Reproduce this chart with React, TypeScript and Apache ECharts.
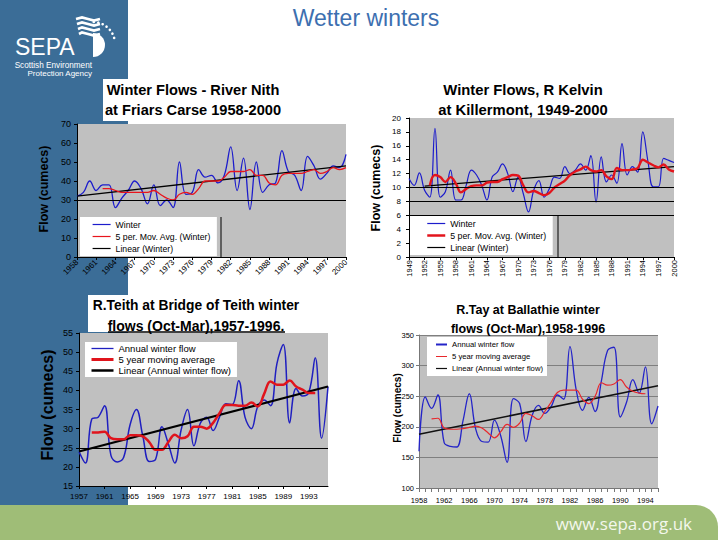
import React, { useEffect, useRef } from "react";
import * as echarts from "echarts";

const SANS = "'Liberation Sans', Arial, Helvetica, sans-serif";
const PLOT_GRAY = "#c0c0c0";
const SEPA_BLUE = "#3b6d97";
const SEPA_GREEN = "#9fbd77";

type Num = number | null;

// ---------------- River Nith (1958-2000) ----------------
const nithYears = ["1958","1959","1960","1961","1962","1963","1964","1965","1966","1967","1968","1969","1970","1971","1972","1973","1974","1975","1976","1977","1978","1979","1980","1981","1982","1983","1984","1985","1986","1987","1988","1989","1990","1991","1992","1993","1994","1995","1996","1997","1998","1999","2000"];
const nithWinter: Num[] = [32,34,40,35,38,38,26,31,35,40,36,28,38,27,30,26,50,33,34,46,42,43,39,43,58,35,52,25,50,34,38,39,56,45,43,35,53,48,41,44,48,47,54];
const nithMovAvg: Num[] = [null,null,null,null,36,36,35,34,34,34,34,34,35,33,31,30,33,34,33,36,40,40,40,42,45,45,45,46,43,43,39,38,43,44,44,44,45,46,44,45,47,46,47];
const nithLinearEnds = [32, 48];
const nithRefLines = [30];
const nithNames = ["Winter", "5 per. Mov. Avg. (Winter)", "Linear (Winter)"];

// ---------------- R Kelvin (1949-2000) ----------------
const kelvinYears = ["1949","1950","1951","1952","1953","1954","1955","1956","1957","1958","1959","1960","1961","1962","1963","1964","1965","1966","1967","1968","1969","1970","1971","1972","1973","1974","1975","1976","1977","1978","1979","1980","1981","1982","1983","1984","1985","1986","1987","1988","1989","1990","1991","1992","1993","1994","1995","1996","1997","1998","1999","2000"];
const kelvinWinter: Num[] = [11.3,10.3,12.1,9.6,8.6,18.5,8.6,9.4,12.5,8.2,8.2,10.3,12.5,11.8,10.3,8.2,11.5,12.2,13.4,12,9.4,11.5,9.1,6.5,9.6,11,8.6,9.8,11.5,11.3,13,12,12.5,13.4,12.5,14.6,7.9,14.4,10.8,11.8,10.6,16.3,11.8,13,12.2,18,13.7,10.1,10.1,14.2,13.9,13.6];
const kelvinMovAvg: Num[] = [null,null,null,null,10.3,11.8,11.5,10.8,11.5,10.6,9.3,9.8,10.2,10.3,10.3,10.7,10.8,10.8,11.2,11.5,11.8,11.7,10.3,9.3,9.5,9.2,8.9,9.2,10,10.5,11,11.8,12.3,12.6,13,12.5,12.3,12.5,11.6,11.2,12.8,12.5,12.5,12.6,12.8,14,13.6,13.2,12.9,13.3,12.6,12.3];
const kelvinLinearEnds = [10.2, 13.0];
const kelvinRefLines = [6, 8, 10];
const kelvinNames = ["Winter", "5 per. Mov. Avg. (Winter)", "Linear (Winter)"];

// ---------------- R.Teith (1957-1996) ----------------
const teithYears = ["1957","1958","1959","1960","1961","1962","1963","1964","1965","1966","1967","1968","1969","1970","1971","1972","1973","1974","1975","1976","1977","1978","1979","1980","1981","1982","1983","1984","1985","1986","1987","1988","1989","1990","1991","1992","1993","1994","1995","1996"];
const teithWinter: Num[] = [24,21,32.5,33,36,23,21.3,22.5,31,35,28,21.4,22,30.5,26,21,29.7,35,25.5,31.4,33,29.5,33,36.5,36.3,42.5,33,30,35.8,37.5,36,47,52,31.5,40.5,38.5,39.5,48.5,27.5,41];
const teithMovAvg: Num[] = [null,null,29,29,29.2,27.5,27.2,27.2,28.3,28.3,28,26.5,24.5,24.5,26.5,28.4,27.5,28,30.5,30.5,30,31.5,34,36.2,36.2,36,36,36.8,35.8,39.1,42.3,41.5,41.5,42.6,41,40.2,39.3,39.3,null,null];
const teithLinearEnds = [24, 41];
const teithRefLines = [25];
const teithNames = ["Annual winter flow", "5 year moving average", "Linear (Annual winter flow)"];

// ---------------- R.Tay (1958-1996) ----------------
const tayYears = ["1958","1959","1960","1961","1962","1963","1964","1965","1966","1967","1968","1969","1970","1971","1972","1973","1974","1975","1976","1977","1978","1979","1980","1981","1982","1983","1984","1985","1986","1987","1988","1989","1990","1991","1992","1993","1994","1995","1996"];
const tayWinter: Num[] = [160,249,230,252,174,168,167,210,254,197,176,175,211,185,142,246,238,176,219,235,222,233,252,245,331,260,227,248,225,275,325,330,216,240,277,255,298,205,234];
const tayMovAvg: Num[] = [null,null,213,214,198,196,196,197,199,201,198,190,182,192,204,199,206,222,218,212,225,240,256,260,260,260,245,238,250,272,268,270,277,265,258,255,254,null,null];
const tayLinearEnds = [188, 267];
const tayNames = ["Annual winter flow", "5 year moving average", "Linear (Annual winter flow)"];

function trendLine(years: string[], ends: number[], from?: string): Num[] {
  const first = from ?? years[0];
  const last = years[years.length - 1];
  return years.map((y) => (y === first ? ends[0] : y === last ? ends[1] : null));
}

function curve(name: string, data: Num[], color: string, width: number, extra: any = {}) {
  return {
    type: "line",
    name,
    data,
    symbol: "none",
    smooth: 0.4,
    connectNulls: false,
    silent: true,
    lineStyle: { color, width },
    itemStyle: { color },
    emphasis: { disabled: true },
    ...extra,
  };
}

function straight(name: string, data: Num[], color: string, width: number) {
  return curve(name, data, color, width, { smooth: false, connectNulls: true });
}

function refLines(values: number[], color = "#000") {
  return {
    silent: true,
    symbol: ["none", "none"],
    label: { show: false },
    lineStyle: { color, width: 1, type: "solid" },
    emphasis: { disabled: true },
    data: values.map((v) => ({ yAxis: v })),
  };
}

function txt(text: string, x: number, y: number, size: number, o: any = {}) {
  const align = o.align || "center";
  return {
    type: "text",
    x,
    y,
    rotation: o.rotation || 0,
    z: 100,
    silent: true,
    style: {
      text,
      fontSize: size,
      fontFamily: o.family || SANS,
      fontWeight: o.weight || "normal",
      fill: o.color || "#000",
      align,
      verticalAlign: "middle",
      textAlign: align,
      textVerticalAlign: "middle",
    },
  };
}

function hline(x1: number, x2: number, y: number, w = 1, color = "#000") {
  return { type: "line", z: 100, silent: true, shape: { x1, y1: y, x2, y2: y }, style: { stroke: color, lineWidth: w } };
}
function vline(x: number, y1: number, y2: number, w = 1, color = "#000") {
  return { type: "line", z: 100, silent: true, shape: { x1: x, y1, x2: x, y2 }, style: { stroke: color, lineWidth: w } };
}

function catAxis(years: string[], o: any) {
  return {
    type: "category",
    data: years,
    boundaryGap: false,
    axisLine: { show: true, lineStyle: { color: o.lineColor || "#000", width: 1 } },
    axisTick: { show: true, interval: o.tickInterval, length: o.tickLen ?? 3, lineStyle: { color: o.lineColor || "#000" } },
    axisLabel: { interval: o.labelInterval, rotate: o.rotate || 0, fontSize: o.fontSize, margin: o.margin, color: "#000", fontFamily: SANS },
    splitLine: { show: false },
  };
}

function valAxis(min: number, max: number, interval: number, o: any) {
  return {
    type: "value",
    min,
    max,
    interval,
    axisLine: { show: true, lineStyle: { color: o.lineColor || "#000", width: 1 } },
    axisTick: { show: true, length: 3, lineStyle: { color: o.lineColor || "#000" } },
    axisLabel: { fontSize: o.fontSize, margin: o.margin, color: o.labelColor || "#000", fontFamily: SANS },
    splitLine: { show: !!o.split, lineStyle: { color: o.splitColor || "#808080", width: 1 } },
  };
}

// legend entries: names with their icon line widths
function legendBox(names: string[], widths: number[], o: any) {
  return {
    orient: "vertical",
    left: o.left,
    top: o.top,
    itemWidth: o.itemWidth,
    itemHeight: 1,
    itemGap: o.itemGap ?? 1,
    padding: o.padding,
    backgroundColor: "#ffffff",
    selectedMode: false,
    textStyle: { fontSize: o.fontSize, lineHeight: o.lineHeight, color: "#000", fontFamily: SANS },
    data: names.map((n, i) => ({ name: n, lineStyle: { width: widths[i] } })),
  };
}

function gridBox(left: number, top: number, width: number, height: number) {
  return { left, top, width, height, show: true, backgroundColor: PLOT_GRAY, borderWidth: 0, containLabel: false };
}

// ---------------- options ----------------
function bgOption() {
  const dots: any[] = [];
  const angles = [-88, -76, -64, -52, -40, -28, -16];
  angles.forEach((a) => {
    const r = (a * Math.PI) / 180;
    dots.push({ type: "circle", silent: true, shape: { cx: 93 + 22 * Math.cos(r), cy: 44 + 22 * Math.sin(r), r: 1.3 }, style: { fill: "#ffffff" } });
  });
  const waves: any[] = [19, 24, 29, 34].map((b, i) => ({
    type: "polyline",
    silent: true,
    shape: { points: [[76 + i * 1, b], [82, b - 1.6], [88, b], [94, b + 1.6], [100, b]] },
    style: { stroke: "#ffffff", lineWidth: 2.6, fill: null },
  }));
  return {
    animation: false,
    graphic: {
      elements: [
        { type: "rect", silent: true, z: 0, shape: { x: 0, y: 0, width: 128, height: 505 }, style: { fill: SEPA_BLUE } },
        { type: "rect", silent: true, z: 0, shape: { x: 0, y: 505, width: 718, height: 35, r: [0, 22, 0, 0] }, style: { fill: SEPA_GREEN } },
        { type: "rect", silent: true, z: 1, shape: { x: 103, y: 79, width: 25, height: 42 }, style: { fill: "#ffffff" } },
        { type: "rect", silent: true, z: 1, shape: { x: 88, y: 295, width: 40, height: 37 }, style: { fill: "#ffffff" } },
        ...waves,
        ...dots,
        { type: "sector", silent: true, shape: { cx: 93, cy: 45, r0: 0, r: 12, startAngle: -Math.PI / 2, endAngle: Math.PI / 2 }, style: { fill: "#ffffff" } },
        txt("SEPA", 15, 47, 23, { color: "#ffffff", align: "left" }),
        txt("Scottish Environment", 92, 65, 8.2, { color: "#ffffff", align: "right" }),
        txt("Protection Agency", 92, 73, 8, { color: "#ffffff", align: "right" }),
        txt("Wetter winters", 366, 18, 23, { color: "#3d6fb0" }),
        txt("www.sepa.org.uk", 692, 523, 17, { color: "#f3f7ec", align: "right", family: "'Open Sans', 'Liberation Sans', sans-serif" }),
      ],
    },
  };
}

function nithOption() {
  return {
    animation: false,
    grid: gridBox(77, 124, 269, 133),
    xAxis: catAxis(nithYears, { labelInterval: 2, tickInterval: 2, rotate: 45, fontSize: 8, margin: 4 }),
    yAxis: valAxis(0, 70, 10, { fontSize: 9, margin: 6 }),
    legend: legendBox(nithNames, [1.2, 1.2, 1.2], { left: 80, top: 217, itemWidth: 18, padding: [2, 6, 2, 12], fontSize: 8.7, lineHeight: 11 }),
    series: [
      curve(nithNames[0], nithWinter, "#1c1ccc", 1.3, { markLine: refLines(nithRefLines), z: 3 }),
      curve(nithNames[1], nithMovAvg, "#e8141c", 1.3, { z: 4 }),
      straight(nithNames[2], trendLine(nithYears, nithLinearEnds), "#000", 1.3),
    ],
    graphic: {
      elements: [
        txt("Winter Flows - River Nith", 193, 90, 14.6, { weight: "bold" }),
        txt("at Friars Carse 1958-2000", 193, 110, 14.6, { weight: "bold" }),
        txt("Flow (cumecs)", 44, 189, 12.5, { weight: "bold", rotation: Math.PI / 2 }),
        vline(221, 217, 257, 1),
      ],
    },
  };
}

function kelvinOption() {
  return {
    animation: false,
    grid: gridBox(409, 118, 265, 139),
    xAxis: catAxis(kelvinYears, { labelInterval: 2, tickInterval: 2, rotate: 90, fontSize: 7.5, margin: 3 }),
    yAxis: valAxis(0, 20, 2, { fontSize: 8, margin: 8 }),
    legend: legendBox(kelvinNames, [1.2, 2.5, 1.2], { left: 410, top: 216, itemWidth: 18, padding: [2, 6, 2, 16], fontSize: 8.8, lineHeight: 11 }),
    series: [
      curve(kelvinNames[0], kelvinWinter, "#1c1ccc", 1.2, { markLine: refLines(kelvinRefLines), z: 3 }),
      curve(kelvinNames[1], kelvinMovAvg, "#e3141c", 2.4, { z: 4 }),
      straight(kelvinNames[2], trendLine(kelvinYears, kelvinLinearEnds, "1952"), "#000", 1.3),
    ],
    graphic: {
      elements: [
        txt("Winter Flows, R Kelvin", 523, 90, 14.8, { weight: "bold" }),
        txt("at Killermont, 1949-2000", 523, 110, 14.8, { weight: "bold" }),
        txt("Flow (cumecs)", 376, 188, 12.5, { weight: "bold", rotation: Math.PI / 2 }),
        vline(558, 216, 257, 1),
      ],
    },
  };
}

function teithOption() {
  return {
    animation: false,
    grid: gridBox(79, 333, 249, 153),
    xAxis: catAxis(teithYears, { labelInterval: 3, tickInterval: 3, fontSize: 8, margin: 6 }),
    yAxis: valAxis(15, 55, 5, { fontSize: 9, margin: 6 }),
    legend: legendBox(teithNames, [1.3, 3, 2.5], { left: 85, top: 342, itemWidth: 22, padding: [1, 6, 1, 5], fontSize: 9.5, lineHeight: 11, itemGap: 0 }),
    series: [
      curve(teithNames[0], teithWinter, "#1f1fc0", 1.5, { markLine: refLines(teithRefLines), z: 3 }),
      curve(teithNames[1], teithMovAvg, "#e0141c", 2.5, { z: 4 }),
      straight(teithNames[2], trendLine(teithYears, teithLinearEnds), "#000", 2),
    ],
    graphic: {
      elements: [
        txt("R.Teith at Bridge of Teith winter", 196, 305, 13.8, { weight: "bold" }),
        txt("flows (Oct-Mar),1957-1996.", 196, 326, 14, { weight: "bold" }),
        hline(108, 285, 332, 1.5),
        txt("Flow (cumecs)", 47, 405, 16, { weight: "bold", rotation: Math.PI / 2 }),
      ],
    },
  };
}

function tayOption() {
  return {
    animation: false,
    grid: gridBox(419, 335, 239, 153),
    xAxis: catAxis(tayYears, { labelInterval: 3, tickInterval: 0, tickLen: 4, fontSize: 7.5, margin: 8, lineColor: "#777" }),
    yAxis: valAxis(100, 350, 50, { fontSize: 7.5, margin: 5, split: true, splitColor: "#7f7f7f", lineColor: "#777" }),
    legend: legendBox(tayNames, [2, 1, 1.2], { left: 427, top: 337, itemWidth: 11, padding: [2, 4, 2, 8], fontSize: 7.7, lineHeight: 11 }),
    series: [
      curve(tayNames[0], tayWinter, "#2424c8", 1.3, { z: 3 }),
      curve(tayNames[1], tayMovAvg, "#e8282c", 1.2, { z: 4 }),
      straight(tayNames[2], trendLine(tayYears, tayLinearEnds), "#111", 1.5),
    ],
    graphic: {
      elements: [
        txt("R.Tay at Ballathie winter", 528, 310, 12.5, { weight: "bold" }),
        txt("flows (Oct-Mar),1958-1996", 528, 329, 12.5, { weight: "bold" }),
        txt("Flow (cumecs)", 397, 408, 10, { weight: "bold", rotation: Math.PI / 2 }),
      ],
    },
  };
}

export default function App() {
  const bgRef = useRef<HTMLDivElement>(null);
  const nithRef = useRef<HTMLDivElement>(null);
  const kelvinRef = useRef<HTMLDivElement>(null);
  const teithRef = useRef<HTMLDivElement>(null);
  const tayRef = useRef<HTMLDivElement>(null);

  useEffect(() => {
    const specs: [React.RefObject<HTMLDivElement>, any][] = [
      [bgRef, bgOption()],
      [nithRef, nithOption()],
      [kelvinRef, kelvinOption()],
      [teithRef, teithOption()],
      [tayRef, tayOption()],
    ];
    const charts = specs.map(([ref, opt]) => {
      const c = echarts.init(ref.current as HTMLDivElement, undefined, { renderer: "svg", width: 720, height: 540 });
      c.setOption(opt);
      return c;
    });
    return () => charts.forEach((c) => c.dispose());
  }, []);

  const layer: React.CSSProperties = { position: "absolute", left: 0, top: 0, width: 720, height: 540 };
  return (
    <div style={{ position: "fixed", left: 0, top: 0, width: 720, height: 540, background: "#ffffff", overflow: "hidden" }}>
      <div ref={bgRef} style={layer} />
      <div ref={nithRef} style={layer} />
      <div ref={kelvinRef} style={layer} />
      <div ref={teithRef} style={layer} />
      <div ref={tayRef} style={layer} />
    </div>
  );
}
